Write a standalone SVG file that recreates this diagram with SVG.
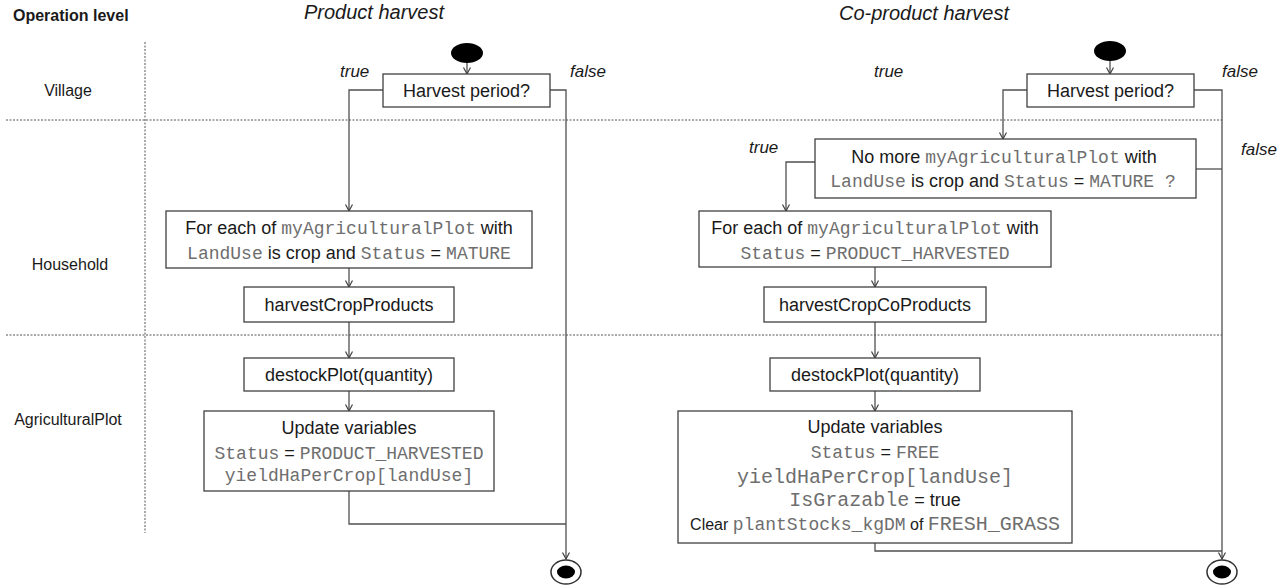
<svg xmlns="http://www.w3.org/2000/svg" width="1283" height="586" viewBox="0 0 1283 586">
<defs>
<style>
text{font-family:"Liberation Sans",Arial,sans-serif;fill:#1a1a1a;}
.t{font-size:18px;}
.lbl{font-size:16px;}
.hdr{font-size:16px;font-weight:bold;}
.ttl{font-size:20px;font-style:italic;}
.tf{font-size:17px;font-style:italic;}
.m{font-family:"Liberation Mono","Courier New",monospace;fill:#6e6e6e;}
.box{fill:#fff;stroke:#404040;stroke-width:1.3;}
.con{fill:none;stroke:#505050;stroke-width:1.3;}
.dot{fill:none;stroke:#555;stroke-width:1;stroke-dasharray:2 1.5;}
</style>
<marker id="arr" markerWidth="10" markerHeight="10" refX="7" refY="4" orient="auto" markerUnits="userSpaceOnUse">
<path d="M0.5,0.5 L7,4 L0.5,7.5" fill="none" stroke="#404040" stroke-width="1.2"/>
</marker>
</defs>
<rect width="1283" height="586" fill="#fff"/>

<g id="lanes">
<line class="dot" x1="145" y1="42" x2="145" y2="533"/>
<line class="dot" x1="6" y1="120" x2="1222" y2="120"/>
<line class="dot" x1="6" y1="335" x2="1222" y2="335"/>
<text class="hdr" x="13" y="21">Operation level</text>
<text class="lbl" x="68" y="96" text-anchor="middle">Village</text>
<text class="lbl" x="70" y="270" text-anchor="middle">Household</text>
<text class="lbl" x="68" y="425" text-anchor="middle">AgriculturalPlot</text>
<text class="ttl" x="374" y="19" text-anchor="middle">Product harvest</text>
<text class="ttl" x="924" y="20" text-anchor="middle">Co-product harvest</text>
</g>

<g id="connectors">
<line class="con" x1="467" y1="62" x2="467" y2="74" marker-end="url(#arr)"/>
<path class="con" d="M383,90 H349 V211" marker-end="url(#arr)"/>
<path class="con" d="M550,90 H566 V559" marker-end="url(#arr)"/>
<line class="con" x1="349" y1="268" x2="349" y2="287" marker-end="url(#arr)"/>
<line class="con" x1="349" y1="322" x2="349" y2="358" marker-end="url(#arr)"/>
<line class="con" x1="349" y1="391" x2="349" y2="411" marker-end="url(#arr)"/>
<path class="con" d="M349,491 V524 H566"/>

<line class="con" x1="1110" y1="61" x2="1110" y2="74" marker-end="url(#arr)"/>
<path class="con" d="M1027,90 H1003 V139" marker-end="url(#arr)"/>
<path class="con" d="M1194,90 H1222 V559" marker-end="url(#arr)"/>
<path class="con" d="M815,162 H786 V211" marker-end="url(#arr)"/>
<path class="con" d="M1196,169 H1222"/>
<line class="con" x1="875" y1="267" x2="875" y2="287" marker-end="url(#arr)"/>
<line class="con" x1="875" y1="322" x2="875" y2="358" marker-end="url(#arr)"/>
<line class="con" x1="875" y1="391" x2="875" y2="411" marker-end="url(#arr)"/>
<path class="con" d="M875,543 V551 H1222"/>

<text class="tf" x="340" y="77">true</text>
<text class="tf" x="570" y="77">false</text>
<text class="tf" x="874" y="77">true</text>
<text class="tf" x="1222" y="77">false</text>
<text class="tf" x="749" y="153">true</text>
<text class="tf" x="1241" y="155">false</text>
</g>

<g id="start1"><ellipse cx="467" cy="53" rx="16" ry="10" fill="#000"/></g>
<g id="start2"><ellipse cx="1110" cy="51" rx="16" ry="10" fill="#000"/></g>

<g id="harvestPeriod1">
<rect class="box" x="383" y="74" width="167" height="33"/>
<text class="t" x="466.5" y="97" text-anchor="middle">Harvest period?</text>
</g>

<g id="forEach1">
<rect class="box" x="166" y="211" width="366" height="57"/>
<text class="t" x="349" y="234" text-anchor="middle">For each of <tspan class="m">myAgriculturalPlot</tspan> with</text>
<text class="t" x="349" y="259" text-anchor="middle"><tspan class="m">LandUse</tspan> is crop and <tspan class="m">Status</tspan> = <tspan class="m">MATURE</tspan></text>
</g>

<g id="harvestCropProducts">
<rect class="box" x="244" y="287" width="210" height="35"/>
<text class="t" x="349" y="311" text-anchor="middle">harvestCropProducts</text>
</g>

<g id="destock1">
<rect class="box" x="244" y="358" width="210" height="33"/>
<text class="t" x="349" y="381" text-anchor="middle">destockPlot(quantity)</text>
</g>

<g id="update1">
<rect class="box" x="204" y="411" width="290" height="80"/>
<text class="t" x="349" y="434" text-anchor="middle">Update variables</text>
<text class="t" x="349" y="459" text-anchor="middle"><tspan class="m">Status</tspan> = <tspan class="m">PRODUCT_HARVESTED</tspan></text>
<text class="t m" x="349" y="481" text-anchor="middle">yieldHaPerCrop[landUse]</text>
</g>

<g id="end1">
<ellipse cx="566" cy="572" rx="15" ry="12" fill="#fff" stroke="#303030" stroke-width="1.5"/>
<ellipse cx="566" cy="572" rx="9" ry="6.5" fill="#000"/>
</g>

<g id="harvestPeriod2">
<rect class="box" x="1027" y="74" width="167" height="33"/>
<text class="t" x="1110.5" y="97" text-anchor="middle">Harvest period?</text>
</g>

<g id="noMore">
<rect class="box" x="815" y="139" width="381" height="59"/>
<text class="t" x="1004" y="163" text-anchor="middle">No more <tspan class="m">myAgriculturalPlot</tspan> with</text>
<text class="t" x="1003" y="187" text-anchor="middle"><tspan class="m">LandUse</tspan> is crop and <tspan class="m">Status</tspan> = <tspan class="m">MATURE ?</tspan></text>
</g>

<g id="forEach2">
<rect class="box" x="699" y="211" width="352" height="56"/>
<text class="t" x="875" y="234" text-anchor="middle">For each of <tspan class="m">myAgriculturalPlot</tspan> with</text>
<text class="t" x="875" y="259" text-anchor="middle"><tspan class="m">Status</tspan> = <tspan class="m">PRODUCT_HARVESTED</tspan></text>
</g>

<g id="harvestCropCoProducts">
<rect class="box" x="764" y="287" width="222" height="35"/>
<text class="t" x="875" y="311" text-anchor="middle">harvestCropCoProducts</text>
</g>

<g id="destock2">
<rect class="box" x="770" y="358" width="210" height="33"/>
<text class="t" x="875" y="381" text-anchor="middle">destockPlot(quantity)</text>
</g>

<g id="update2">
<rect class="box" x="678" y="411" width="394" height="132"/>
<text class="t" x="875" y="433" text-anchor="middle">Update variables</text>
<text class="t" x="875" y="458" text-anchor="middle"><tspan class="m">Status</tspan> = <tspan class="m">FREE</tspan></text>
<text class="m" x="875" y="483" text-anchor="middle" font-size="20">yieldHaPerCrop[landUse]</text>
<text class="t" x="875" y="506" text-anchor="middle"><tspan class="m" font-size="20">IsGrazable</tspan> = true</text>
<text x="875" y="530" text-anchor="middle" font-size="16">Clear <tspan class="m" font-size="18">plantStocks_kgDM</tspan> of <tspan class="m" font-size="20">FRESH_GRASS</tspan></text>
</g>

<g id="end2">
<ellipse cx="1222" cy="572" rx="15" ry="12" fill="#fff" stroke="#303030" stroke-width="1.5"/>
<ellipse cx="1222" cy="572" rx="9" ry="6.5" fill="#000"/>
</g>
</svg>
